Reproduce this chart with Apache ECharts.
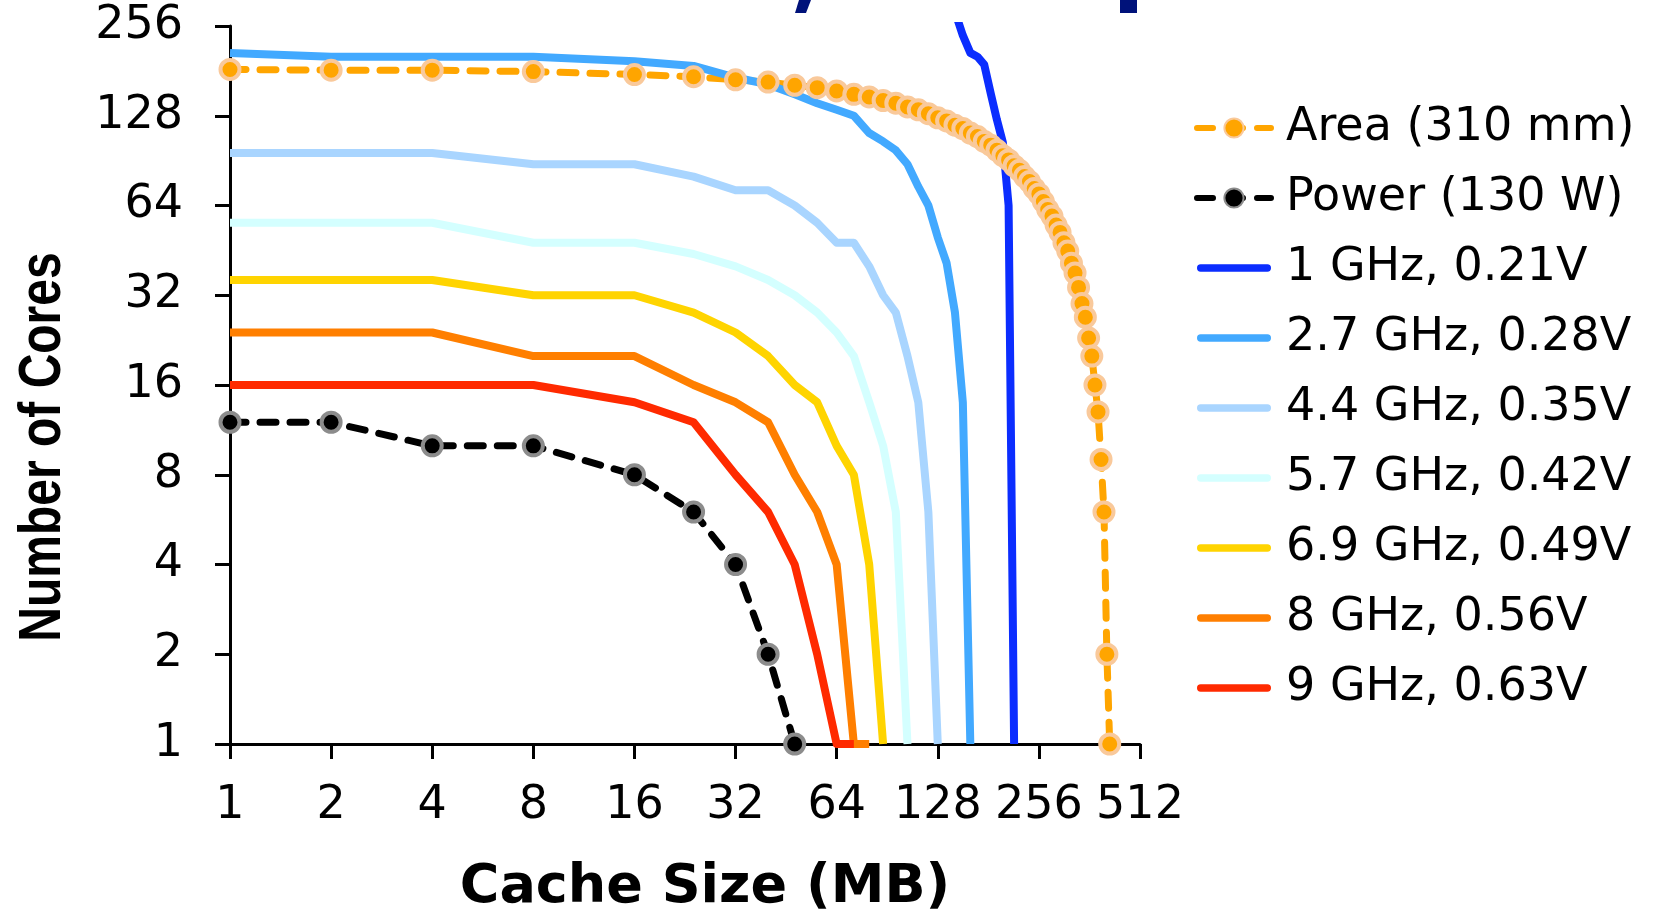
<!DOCTYPE html>
<html>
<head>
<meta charset="utf-8">
<title>Number of Cores vs Cache Size</title>
<script src="https://cdn.jsdelivr.net/npm/echarts@6/dist/echarts.min.js"></script>
<style>
html, body { margin: 0; padding: 0; background: #fff; }
#coreChart { width: 1659px; height: 911px; }
</style>
</head>
<body>
<div id="coreChart"></div>
<script>
// cache sizes of the sweep (MB), shared by every curve that starts at 1 MB
var cacheMB = [1, 2, 4, 8, 16, 24, 32, 40, 48, 56, 64, 72, 80, 88, 96, 104, 112, 120, 128, 136,
    144, 152, 160, 168, 176, 184, 192, 200, 208, 216, 224, 232, 240, 248, 256, 264, 272, 280,
    288, 296, 304, 312, 320, 328, 336, 344, 352, 360, 368, 376, 384, 392, 400, 408, 416];
var xTicks = [1, 2, 4, 8, 16, 32, 64, 128, 256, 512];
var yTicks = [1, 2, 4, 8, 16, 32, 64, 128, 256];

var seriesNames = ['Area (310 mm)', 'Power (130 W)', '1 GHz, 0.21V', '2.7 GHz, 0.28V', '4.4 GHz, 0.35V',
    '5.7 GHz, 0.42V', '6.9 GHz, 0.49V', '8 GHz, 0.56V', '9 GHz, 0.63V'];

// number of cores
var areaCores = [183, 182, 182, 180, 176, 173, 169, 166, 162, 159, 155, 151, 148, 144, 141, 137, 134,
    130, 126, 123, 119, 116, 112, 109, 105, 102, 98, 94, 91, 87, 84, 80, 77, 73, 70, 66, 62, 59, 55,
    52, 48, 45, 41, 38, 34, 30, 27, 23, 20, 16, 13, 9, 6, 2, 1];
var powerCores = [12, 12, 10, 10, 8, 6, 4, 2, 1];
var ghz1Cache = [144, 152, 160, 168, 176, 184, 192, 200, 208, 216];
var ghz1Cores = [286, 238, 208, 202, 190, 152, 124, 104, 64, 1];
var ghz27Cores = [208, 202, 202, 202, 195, 188, 172, 163, 151, 141, 134, 128, 112, 105, 98, 88, 74, 64, 50, 41, 28, 14, 1];
var ghz44Cores = [96, 96, 96, 88, 88, 80, 72, 72, 64, 56, 48, 48, 40, 32, 28, 20, 14, 6, 1];
var ghz57Cores = [56, 56, 56, 48, 48, 44, 40, 36, 32, 28, 24, 20, 14, 10, 6, 1];
var ghz69Cores = [36, 36, 36, 32, 32, 28, 24, 20, 16, 14, 10, 8, 4, 1];
var ghz8Cores = [24, 24, 24, 20, 20, 16, 14, 12, 8, 6, 4, 1, 1];
var ghz9Cores = [16, 16, 16, 16, 14, 12, 8, 6, 4, 2, 1, 1];

// plain thick bar with round ends for the legend of the solid curves
var barIcon = 'path://M4,0h72a4,4 0 0 1 0,8h-72a4,4 0 0 1 0,-8z';

var coreChart = {
    init: function () {
        this.chart = echarts.init(document.getElementById('coreChart'));
        this.chart.setOption(this.buildOption());
    },
    // pair each value with its cache size
    pairs: function (xs, ys) {
        return ys.map(function (v, i) { return [xs[i], v]; });
    },
    solidLine: function (name, xs, ys, color, clip) {
        return {
            name: name,
            type: 'line',
            data: this.pairs(xs, ys),
            symbol: 'none',
            clip: !!clip,
            lineStyle: { color: color, width: 8, join: 'round' },
            itemStyle: { color: color }
        };
    },
    dottedLine: function (name, ys, fill, border) {
        return {
            name: name,
            type: 'line',
            data: this.pairs(cacheMB, ys),
            symbol: 'circle',
            symbolSize: 19,
            clip: false,
            lineStyle: { color: fill, width: 7, type: [16, 14], cap: 'round', join: 'round' },
            itemStyle: { color: fill, borderColor: border, borderWidth: 4 }
        };
    },
    buildOption: function () {
        var tickFont = { fontFamily: 'DejaVu Sans', fontSize: 46, color: '#000' };
        var axisBase = {
            type: 'log',
            logBase: 2,
            interval: 1,
            splitLine: { show: false },
            axisLine: { show: true, onZero: false, lineStyle: { color: '#000', width: 3 } },
            axisTick: { show: true, length: 15, lineStyle: { color: '#000', width: 3 } },
            axisLabel: Object.assign({ formatter: function (v) { return String(Math.round(v)); } }, tickFont)
        };
        var xAxis = Object.assign({}, axisBase, { min: xTicks[0], max: xTicks[xTicks.length - 1] });
        xAxis.axisLabel = Object.assign({}, axisBase.axisLabel, { margin: 39 });
        var yAxis = Object.assign({}, axisBase, { min: yTicks[0], max: yTicks[yTicks.length - 1] });
        yAxis.axisLabel = Object.assign({}, axisBase.axisLabel, { margin: 47 });

        var legendData = seriesNames.map(function (n, i) {
            return i < 2 ? { name: n } : { name: n, icon: barIcon };
        });

        return {
            backgroundColor: '#fff',
            animation: false,
            grid: { left: 230, top: 26, width: 910, height: 718 },
            xAxis: xAxis,
            yAxis: yAxis,
            legend: {
                orient: 'vertical',
                left: 1189,
                top: 100,
                itemGap: 24,
                itemWidth: 74,
                itemHeight: 24,
                selectedMode: false,
                lineStyle: { width: 6 },
                textStyle: Object.assign({ padding: [0, 0, 0, 10] }, tickFont),
                data: legendData
            },
            graphic: [
                {
                    type: 'text', x: 43, y: 447, rotation: Math.PI / 2, scaleX: 0.8,
                    style: {
                        text: 'Number of Cores', fill: '#000', align: 'center', verticalAlign: 'middle',
                        font: 'bold 60px "Liberation Sans", Arial, sans-serif'
                    }
                },
                {
                    type: 'text', x: 705, y: 888,
                    style: {
                        text: 'Cache Size (MB)', fill: '#000', align: 'center', verticalAlign: 'middle',
                        font: 'bold 54px "DejaVu Sans", sans-serif'
                    }
                },
                // bits of the slide title cut off at the top edge
                { type: 'polygon', shape: { points: [[799, 0], [811, 0], [806, 13], [795, 13]] }, style: { fill: '#00127a' } },
                { type: 'rect', shape: { x: 1120, y: 0, width: 17, height: 13 }, style: { fill: '#00127a' } }
            ],
            series: [
                this.dottedLine(seriesNames[0], areaCores, '#ffa500', '#f9c99b'),
                this.dottedLine(seriesNames[1], powerCores, '#000000', '#8c8c8c'),
                this.solidLine(seriesNames[2], ghz1Cache, ghz1Cores, '#0b2dff', true),
                this.solidLine(seriesNames[3], cacheMB, ghz27Cores, '#42a9ff'),
                this.solidLine(seriesNames[4], cacheMB, ghz44Cores, '#a9d5ff'),
                this.solidLine(seriesNames[5], cacheMB, ghz57Cores, '#d4ffff'),
                this.solidLine(seriesNames[6], cacheMB, ghz69Cores, '#ffd400'),
                this.solidLine(seriesNames[7], cacheMB, ghz8Cores, '#ff7f00'),
                this.solidLine(seriesNames[8], cacheMB, ghz9Cores, '#ff2a00')
            ]
        };
    }
};

coreChart.init();
</script>
</body>
</html>
